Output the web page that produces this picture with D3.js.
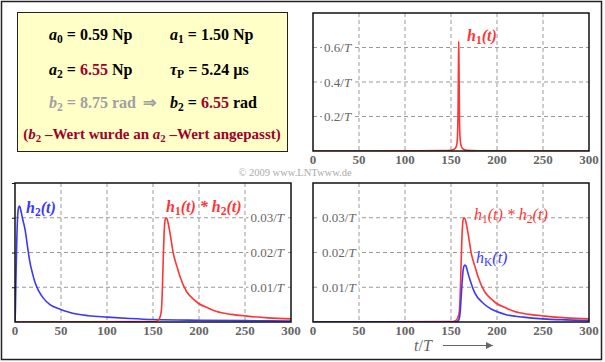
<!DOCTYPE html>
<html><head><meta charset="utf-8">
<script src="https://cdn.jsdelivr.net/npm/d3@7"></script>
<style>body{margin:0;background:#fff}svg{display:block}</style>
</head><body>
<svg id="c" width="605" height="362"></svg>
<script>
// ---- data ----
const xTicks = [0, 50, 100, 150, 200, 250, 300];
const yTicksTop = [0.2, 0.4, 0.6];
const yTicksTopLabels = ["0.2/", "0.4/", "0.6/"];
const yTicksBottom = [0.01, 0.02, 0.03];
const yTicksBottomLabels = ["0.01/", "0.02/", "0.03/"];

const tH1 = [0, 100, 140, 150, 154, 156, 157, 157.7, 158.1, 158.4, 158.7, 159.1, 159.8, 161, 163, 167, 180, 300];
const vH1 = [0, 0.0005, 0.002, 0.004, 0.012, 0.03, 0.08, 0.25, 0.5, 0.636, 0.5, 0.25, 0.08, 0.03, 0.012, 0.004, 0.0015, 0.0002];

const tH2 = [0, 0.5, 1, 2, 3, 4, 5, 6, 8, 11, 14, 16, 19, 22, 26, 31, 38, 49, 58, 67, 80, 100, 125, 150, 200, 250, 300];
const vH2 = [0, 0.004, 0.012, 0.024, 0.031, 0.033, 0.0334, 0.0325, 0.030, 0.0265, 0.021, 0.0175, 0.014, 0.0112, 0.0088, 0.0068, 0.005, 0.0037, 0.0029, 0.0023, 0.0018, 0.0014, 0.001, 0.0007, 0.0005, 0.0004, 0.0003];

const tConv = [0, 150, 155, 157, 159, 160, 161, 162, 163, 164, 165, 166, 168.5, 172, 176, 179.3, 186.6, 193, 199.3, 210, 219.2, 235, 251.8, 275, 300];
const vConv = [0, 0.0001, 0.0004, 0.001, 0.003, 0.008, 0.017, 0.025, 0.0292, 0.0299, 0.0299, 0.029, 0.0256, 0.0198, 0.016, 0.0131, 0.0087, 0.0068, 0.0054, 0.004, 0.003, 0.0022, 0.0017, 0.0012, 0.0009];

const tHK = [0, 155, 157.6, 159, 160, 161, 162, 163, 164, 165.2, 166.5, 168, 170.7, 176, 185, 192, 199.7, 210, 228.6, 250, 275, 300];
const vHK = [0, 0, 0.0003, 0.001, 0.003, 0.007, 0.011, 0.0145, 0.016, 0.0164, 0.016, 0.0145, 0.0121, 0.0083, 0.0054, 0.004, 0.003, 0.0021, 0.0014, 0.0009, 0.0006, 0.0004];

// ---- drawing ----
const svg = d3.select("#c");
const RED = "#ff3535", BLUE = "#3838ff", DARKRED = "#a0002a", GRAY = "#666";
const serif = "'Liberation Serif','Times New Roman',serif";

svg.append("rect").attr("x", 1.5).attr("y", 1.5).attr("width", 600).attr("height", 358)
  .attr("fill", "#fff").attr("stroke", "#222").attr("stroke-width", 1.5);

// info box
const box = svg.append("g");
box.append("rect").attr("x", 17.5).attr("y", 12.5).attr("width", 270).attr("height", 139)
  .attr("fill", "#ffffc8").attr("stroke", "#222").attr("stroke-width", 1);

function rich(g, x, y, parts, opts = {}) {
  const t = g.append("text").attr("x", x).attr("y", y)
    .attr("font-family", serif).attr("font-size", opts.size || 16).attr("font-weight", "bold")
    .attr("fill", opts.fill || "#000");
  if (opts.anchor) t.attr("text-anchor", opts.anchor);
  parts.forEach(p => {
    const s = t.append("tspan").text(p.t);
    if (p.i) s.attr("font-style", "italic");
    if (p.sub) s.attr("baseline-shift", "-25%").attr("font-size", (opts.size || 16) * 0.72);
    if (p.c) s.attr("fill", p.c);
  });
  return t;
}
rich(box, 49, 40, [{t: "a", i: 1}, {t: "0", sub: 1}, {t: " = 0.59 Np"}]);
rich(box, 170, 40, [{t: "a", i: 1}, {t: "1", sub: 1}, {t: " = 1.50 Np"}]);
rich(box, 49, 75, [{t: "a", i: 1}, {t: "2", sub: 1}, {t: " = "}, {t: "6.55", c: DARKRED}, {t: " Np"}]);
rich(box, 170, 75, [{t: "τ", i: 1}, {t: "P", sub: 1}, {t: " = 5.24 µs"}]);
rich(box, 49, 108, [{t: "b", i: 1}, {t: "2", sub: 1}, {t: " = 8.75 rad"}], {fill: "#a0a0a0"});
rich(box, 143, 108, [{t: "⇒"}], {fill: "#a0a0a0"});
rich(box, 170, 108, [{t: "b", i: 1}, {t: "2", sub: 1}, {t: " = "}, {t: "6.55", c: DARKRED}, {t: " rad"}]);
rich(box, 152, 139, [{t: "("}, {t: "b", i: 1}, {t: "2", sub: 1}, {t: " –Wert wurde an "}, {t: "a", i: 1}, {t: "2", sub: 1}, {t: " –Wert angepasst)"}], {fill: DARKRED, anchor: "middle", size: 15});

svg.append("text").attr("x", 295).attr("y", 176).attr("text-anchor", "middle")
  .attr("font-family", serif).attr("font-size", 10.5).attr("fill", "#aaa").text("© 2009 www.LNTwww.de");

function panel(cfg) {
  const x = d3.scaleLinear().domain([0, 300]).range([cfg.x0, cfg.x1]);
  const y = d3.scaleLinear().domain([0, cfg.ymax]).range([cfg.y1, cfg.y0]);
  const g = svg.append("g");
  g.append("rect").attr("x", cfg.x0).attr("y", cfg.y0).attr("width", cfg.x1 - cfg.x0).attr("height", cfg.y1 - cfg.y0).attr("fill", "#fff");
  // grid
  g.append("g").selectAll("line").data(xTicks.slice(1, -1)).join("line")
    .attr("x1", d => x(d)).attr("x2", d => x(d)).attr("y1", cfg.y0).attr("y2", cfg.y1)
    .attr("stroke", "#999").attr("stroke-dasharray", "4,3");
  g.append("g").selectAll("line").data(cfg.yTicks).join("line")
    .attr("x1", cfg.x0).attr("x2", cfg.x1).attr("y1", d => y(d)).attr("y2", d => y(d))
    .attr("stroke", "#999").attr("stroke-dasharray", "4,3");
  // y labels with white backing
  cfg.yTicks.forEach((d, i) => {
    const t = g.append("text").attr("x", cfg.labelX).attr("y", y(d) + 4.5)
      .attr("font-family", serif).attr("font-size", 13).attr("fill", GRAY)
      .attr("text-anchor", cfg.labelAnchor);
    t.append("tspan").text(cfg.yLabels[i]);
    t.append("tspan").attr("font-style", "italic").text("T");
    const bb = t.node().getBBox();
    g.insert("rect", function () { return t.node(); })
      .attr("x", bb.x - 2).attr("y", bb.y + 1).attr("width", bb.width + 4).attr("height", bb.height - 2).attr("fill", "#fff");
  });
  // curves
  const clipId = "clip" + cfg.id;
  svg.append("clipPath").attr("id", clipId).append("rect")
    .attr("x", cfg.x0).attr("y", cfg.y0 - 2).attr("width", cfg.x1 - cfg.x0).attr("height", cfg.y1 - cfg.y0 + 2);
  const line = d3.line().x(d => x(d[0])).y(d => y(d[1])).curve(d3.curveMonotoneX);
  cfg.series.forEach(s => {
    g.append("path").datum(s.t.map((t, i) => [t, s.v[i]])).attr("d", line)
      .attr("fill", "none").attr("stroke", s.color).attr("stroke-width", 1.6)
      .attr("clip-path", `url(#${clipId})`);
  });
  // frame
  g.append("rect").attr("x", cfg.x0).attr("y", cfg.y0).attr("width", cfg.x1 - cfg.x0).attr("height", cfg.y1 - cfg.y0)
    .attr("fill", "none").attr("stroke", "#111").attr("stroke-width", 1.5);
  if (cfg.leftTicks) {
    const ax = g.append("g").attr("transform", `translate(${cfg.x0},0)`)
      .call(d3.axisLeft(y).tickValues([0.01, 0.02, 0.03, 0.04]).tickSize(3).tickFormat(""));
    ax.select(".domain").remove();
    ax.selectAll("line").attr("stroke", "#111");
  }
  // x tick labels
  g.append("g").selectAll("text").data(xTicks).join("text")
    .attr("x", d => x(d)).attr("y", cfg.y1 + 13).attr("text-anchor", "middle")
    .attr("font-family", serif).attr("font-size", 13).attr("font-weight", "bold").attr("fill", GRAY)
    .text(d => d);
  return {x, y, g};
}

function curveLabel(g, x, y, parts, color, bold) {
  const t = g.append("text").attr("x", x).attr("y", y).attr("font-family", serif)
    .attr("font-size", 16).attr("font-style", "italic").attr("font-weight", bold ? "bold" : "normal").attr("fill", color);
  parts.forEach(p => {
    const s = t.append("tspan").text(p.t);
    if (p.sub) s.attr("baseline-shift", "-25%").attr("font-size", 11.5).attr("font-style", "normal");
  });
}

const tr = panel({id: "tr", x0: 313, x1: 589, y0: 13, y1: 151, ymax: 0.8, yTicks: yTicksTop, yLabels: yTicksTopLabels,
  labelX: 324, labelAnchor: "start", series: [{t: tH1, v: vH1, color: RED}]});
curveLabel(tr.g, 467, 41, [{t: "h"}, {t: "1", sub: 1}, {t: "(t)"}], RED, true);

const bl = panel({id: "bl", x0: 15, x1: 291, y0: 183, y1: 322, ymax: 0.04, yTicks: yTicksBottom, yLabels: yTicksBottomLabels,
  labelX: 284, labelAnchor: "end", leftTicks: true,
  series: [{t: tH2, v: vH2, color: BLUE}, {t: tConv, v: vConv, color: RED}]});
curveLabel(bl.g, 26, 213, [{t: "h"}, {t: "2", sub: 1}, {t: "(t)"}], BLUE, true);
curveLabel(bl.g, 166, 212, [{t: "h"}, {t: "1", sub: 1}, {t: "(t) * h"}, {t: "2", sub: 1}, {t: "(t)"}], RED, true);

const br = panel({id: "br", x0: 313, x1: 589, y0: 183, y1: 322, ymax: 0.04, yTicks: yTicksBottom, yLabels: yTicksBottomLabels,
  labelX: 322, labelAnchor: "start",
  series: [{t: tConv, v: vConv, color: RED}, {t: tHK, v: vHK, color: BLUE}]});
curveLabel(br.g, 474, 220, [{t: "h"}, {t: "1", sub: 1}, {t: "(t) * h"}, {t: "2", sub: 1}, {t: "(t)"}], RED, false);
curveLabel(br.g, 476, 263, [{t: "h"}, {t: "K", sub: 1}, {t: "(t)"}], BLUE, false);

// axis title with arrow
const xt = svg.append("text").attr("x", 423).attr("y", 351).attr("text-anchor", "middle")
  .attr("font-family", serif).attr("font-size", 16).attr("font-style", "italic").attr("fill", GRAY);
xt.append("tspan").text("t");
xt.append("tspan").attr("font-style", "normal").text("/");
xt.append("tspan").text("T");
svg.append("defs").append("marker").attr("id", "ah").attr("viewBox", "0 0 10 10").attr("refX", 10).attr("refY", 5)
  .attr("markerWidth", 9).attr("markerHeight", 7).attr("markerUnits", "userSpaceOnUse").attr("orient", "auto")
  .append("path").attr("d", "M0,0L10,5L0,10z").attr("fill", GRAY);
svg.append("line").attr("x1", 443).attr("x2", 493).attr("y1", 345.5).attr("y2", 345.5)
  .attr("stroke", GRAY).attr("stroke-width", 1).attr("marker-end", "url(#ah)");
</script>
</body></html>
